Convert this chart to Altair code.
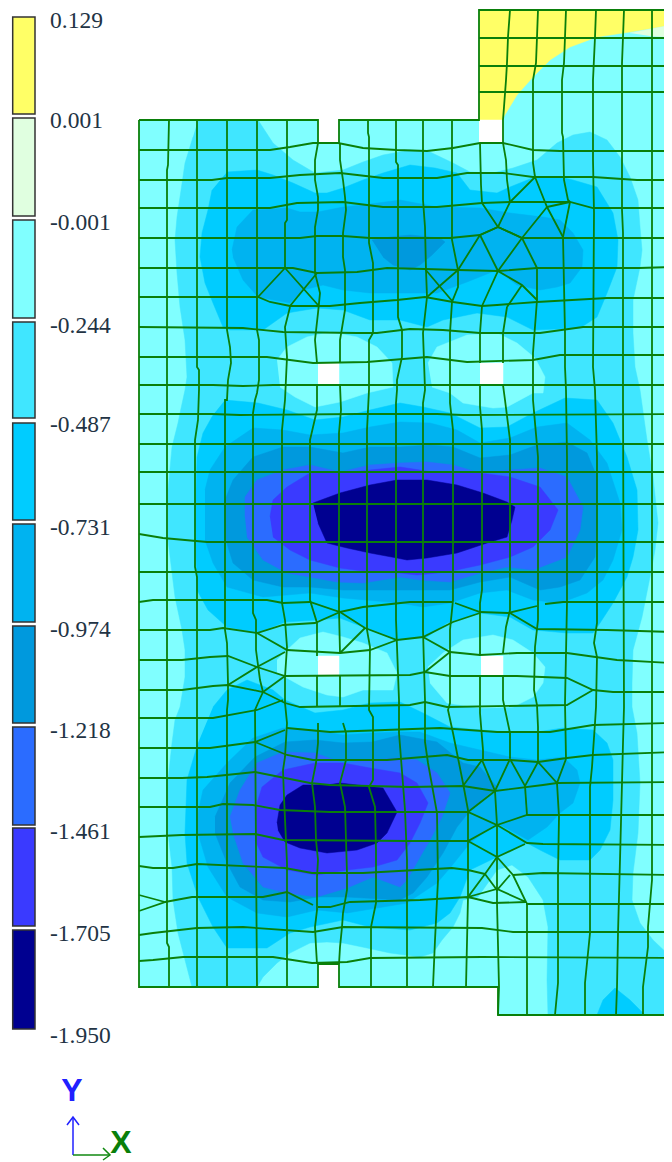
import altair as alt
import pandas as pd

# ---------- legend ----------
legend_colors = ["#FFFF66", "#E0FFE0", "#80FFFF", "#40E6FF", "#00CCFF", "#00B3F0",
                 "#0099DD", "#2B6CFF", "#3A3AFF", "#000090"]
legend_tops = [17, 118, 220, 322, 423, 524, 626, 727, 828, 930]
legend_bottoms = [114, 216, 318, 418, 520, 622, 723, 825, 926, 1029]
legend_labels = ["0.129", "0.001", "-0.001", "-0.244", "-0.487", "-0.731", "-0.974",
                 "-1.218", "-1.461", "-1.705", "-1.950"]
legend_label_y = [21, 121, 223, 326, 425, 528, 630, 731, 832, 934, 1036]

# ---------- contour regions, painted in order ----------
outline = [(139,120),(318,120),(318,143),(339,143),(339,120),(479,120),(479,10),(672,10),(672,1015),(498,1015),(498,987),(339,987),(339,964),(318,964),(318,987),(139,987)]
yellow = [(479,10),(672,10),(672,25),(630,32),(597,37),(570,47),(550,60),(533,77),(517,95),(503,118),(503,120),(479,120)]
pale = [(630,33),(672,25),(672,37),(650,36)]
c3 = [(198,120),(258,120),(273,143),(293,160),(315,173),(343,170),(363,162),(383,155),(410,150),(430,152),(453,163),(470,172),(493,173),(513,168),(537,160),(557,143),(573,135),(590,132),(607,140),(620,157),(630,177),(638,200),(640,227),(642,250),(640,267),(633,300),(633,333),(635,367),(640,390),(647,440),(653,477),(658,523),(655,550),(650,577),(642,617),(633,650),(632,683),(632,707),(637,733),(640,783),(638,833),(633,873),(632,900),(640,923),(653,940),(672,958),(672,1015),(548,1015),(547,980),(548,927),(543,900),(528,877),(512,865),(497,870),(478,897),(463,900),(460,913),(453,927),(442,940),(433,953),(420,957),(390,953),(367,948),(343,943),(327,942),(310,943),(290,953),(277,963),(263,977),(257,987),(192,987),(185,960),(178,933),(173,900),(172,867),(168,833),(168,780),(172,743),(175,720),(180,707),(185,677),(185,650),(182,630),(175,597),(172,573),(168,540),(168,490),(172,447),(178,423),(180,413),(185,390),(187,377),(185,340),(180,307),(177,273),(175,240),(177,217),(180,197),(185,163),(193,137)]
p_a = [(277,360),(287,347),(307,337),(330,332),(357,337),(377,347),(392,363),(393,387),(367,393),(340,402),(315,407),(295,397),(280,387)]
p_b = [(428,363),(437,347),(467,335),(497,333),(517,343),(535,358),(545,377),(543,393),(533,393),(507,407),(493,408),(463,403),(450,393),(432,387)]
p_c = [(277,660),(287,650),(300,638),(323,632),(343,637),(363,643),(387,653),(397,673),(393,690),(363,690),(343,697),(327,695),(303,687),(285,677),(277,673)]
p_d = [(428,667),(443,653),(463,640),(493,635),(513,640),(533,653),(545,667),(543,683),(533,697),(513,707),(480,708),(447,703),(430,683)]
c4_top = [(227,172),(257,170),(273,175),(293,183),(315,193),(327,193),(343,188),(363,180),(383,173),(410,165),(435,168),(457,173),(470,190),(497,193),(510,187),(535,177),(560,177),(573,180),(597,187),(613,213),(618,240),(617,267),(607,293),(597,317),(580,328),(533,330),(507,317),(477,313),(443,320),(427,327),(400,320),(370,320),(343,310),(317,308),(287,313),(263,330),(230,330),(223,327),(213,303),(205,283),(200,257),(202,233),(208,210),(212,190)]
c5_top = [(232,250),(237,227),(253,210),(287,208),(300,212),(318,212),(343,207),(363,205),(400,200),(437,207),(480,208),(510,213),(543,217),(560,220),(573,233),(583,250),(582,267),(570,283),(557,287),(540,290),(517,285),(497,270),(467,282),(437,293),(400,293),(370,293),(343,290),(323,285),(303,290),(290,303),(258,297),(243,280),(233,257)]
c6_top = [(372,240),(390,237),(410,235),(440,238),(445,242),(432,255),(420,265),(410,270),(393,265),(383,257)]
c4_mid = [(225,400),(258,403),(287,410),(315,420),(343,417),(370,410),(400,403),(423,407),(450,413),(480,428),(507,427),(533,413),(565,398),(597,400),(613,423),(627,457),(637,490),(638,530),(633,557),(627,577),(613,603),(600,623),(593,633),(567,633),(533,630),(510,617),(480,613),(447,623),(427,637),(397,640),(363,627),(340,618),(317,620),(285,622),(257,633),(227,627),(208,610),(197,590),(195,523),(197,457),(203,433),(213,415)]
c5_mid = [(205,490),(210,470),(225,447),(253,428),(283,430),(310,435),(343,433),(370,427),(400,422),(430,423),(457,430),(480,443),(510,438),(537,427),(567,423),(590,440),(607,463),(620,503),(622,530),(613,560),(603,580),(587,593),(560,603),(533,600),(507,590),(480,593),(450,603),(423,607),(400,603),(343,598),(310,593),(263,597),(227,587),(213,563),(205,540)]
c6_mid = [(225,523),(225,500),(233,480),(253,457),(283,447),(310,447),(343,453),(370,447),(400,447),(430,445),(453,447),(480,458),(510,455),(537,445),(567,442),(587,453),(597,477),(597,523),(595,557),(580,580),(560,587),(540,590),(510,577),(480,582),(450,590),(423,590),(400,590),(343,590),(310,587),(283,587),(253,580),(233,563),(225,537)]
c7_mid = [(245,517),(245,497),(257,480),(283,470),(310,465),(340,472),(370,465),(400,463),(427,462),(453,465),(480,473),(510,470),(540,468),(567,477),(583,507),(580,530),(567,557),(533,570),(507,567),(480,573),(450,582),(420,580),(400,577),(363,583),(337,582),(310,577),(287,573),(263,560),(247,537)]
c8_mid = [(270,517),(273,500),(287,487),(310,473),(340,473),(370,470),(400,467),(433,472),(480,473),(510,477),(540,487),(558,510),(550,530),(533,547),(510,557),(480,565),(447,572),(417,575),(400,573),(370,572),(340,568),(310,560),(290,550),(273,537)]
c9_mid = [(313,503),(340,493),(370,485),(397,480),(427,480),(457,485),(483,493),(507,502),(515,507),(512,520),(507,537),(487,543),(457,553),(427,558),(407,560),(397,558),(370,553),(347,548),(327,543),(318,523)]
c4_low = [(213,707),(227,690),(247,680),(273,690),(285,700),(315,713),(343,710),(370,703),(400,702),(423,713),(450,727),(480,730),(510,732),(537,732),(563,728),(593,730),(607,743),(613,760),(613,800),(610,830),(600,850),(590,860),(560,860),(540,850),(527,843),(497,857),(470,870),(460,897),(450,913),(437,923),(410,930),(370,927),(343,920),(310,927),(290,933),(267,948),(227,948),(213,927),(198,897),(187,863),(185,833),(187,780),(198,743)]
c5_low = [(198,813),(203,790),(227,763),(253,738),(283,728),(315,730),(343,735),(372,733),(400,732),(420,732),(450,743),(480,750),(510,757),(537,760),(563,757),(577,770),(580,783),(573,803),(560,813),(547,827),(528,840),(497,823),(470,843),(450,868),(437,883),(407,903),(347,913),(317,910),(287,917),(257,913),(227,897),(208,867),(198,833)]
c6_low = [(215,817),(230,783),(255,757),(285,742),(315,740),(343,743),(372,742),(400,735),(437,742),(463,763),(480,767),(497,787),(473,807),(457,827),(443,853),(427,877),(413,893),(400,900),(347,897),(317,897),(290,902),(263,900),(240,887),(227,863),(215,833)]
c7_low = [(230,817),(240,790),(257,763),(283,752),(315,753),(343,763),(372,760),(400,758),(417,760),(437,773),(450,793),(442,817),(430,840),(420,857),(407,880),(400,887),(373,877),(347,888),(317,897),(287,893),(263,887),(243,863),(233,833)]
c8_low = [(255,810),(262,787),(283,770),(315,763),(343,763),(370,768),(400,773),(417,783),(428,803),(420,823),(410,843),(397,860),(373,867),(347,870),(317,875),(287,870),(263,857),(255,840)]
c9_low = [(277,823),(280,805),(287,795),(303,785),(327,785),(340,783),(357,785),(383,788),(397,812),(387,833),(377,843),(357,850),(327,853),(300,848),(285,842),(278,830)]
c4_corner = [(597,1015),(603,1000),(615,988),(630,1000),(645,1015)]
hole1 = [(479,120),(503,120),(503,143),(479,143)]
hole2 = [(318,363),(339,363),(339,385),(318,385)]
hole3 = [(480,363),(503,363),(503,385),(480,385)]
hole4 = [(318,656),(339,656),(339,676),(318,676)]
hole5 = [(481,656),(503,656),(503,676),(481,676)]

regions = [
    (outline, "#80FFFF"), (yellow, "#FFFF66"), (pale, "#E0FFE0"), (c3, "#40E6FF"),
    (p_a, "#80FFFF"), (p_b, "#80FFFF"), (p_c, "#80FFFF"), (p_d, "#80FFFF"),
    (c4_top, "#00CCFF"), (c5_top, "#00B3F0"), (c6_top, "#0099DD"),
    (c4_mid, "#00CCFF"), (c5_mid, "#00B3F0"), (c6_mid, "#0099DD"), (c7_mid, "#2B6CFF"), (c8_mid, "#3A3AFF"), (c9_mid, "#000090"),
    (c4_low, "#00CCFF"), (c5_low, "#00B3F0"), (c6_low, "#0099DD"), (c7_low, "#2B6CFF"), (c8_low, "#3A3AFF"), (c9_low, "#000090"),
    (c4_corner, "#00CCFF"),
    (hole1, "#FFFFFF"), (hole2, "#FFFFFF"), (hole3, "#FFFFFF"), (hole4, "#FFFFFF"), (hole5, "#FFFFFF"),
]

# ---------- mesh lines ----------
mesh_vertical = [
    [(169,120),(168,165),(167,170),(167,943),(169,947),(169,987)],
    [(197,120),(197,367),(199,370),(199,390),(198,420),(195,440),(195,567),(197,577),(197,987)],
    [(227,120),(227,330),(230,347),(231,363),(228,380),(227,400),(225,400),(225,630),(227,643),(228,683),(228,700),(227,710),(227,987)],
    [(257,120),(257,330),(259,340),(259,380),(257,393),(255,400),(253,413),(253,613),(256,620),(256,650),(260,680),(263,692),(258,703),(255,710),(257,987)],
    [(287,120),(287,220),(285,223),(285,268)],
    [(290,307),(285,327),(287,357),(285,400),(282,430),(282,603),(285,620),(287,647),(285,677),(285,703),(287,723),(285,757),(283,770),(284,797),(287,863),(287,987)],
    [(318,143),(315,160),(315,180),(318,197),(318,210),(315,227),(315,273),(320,293),(318,313),(315,340),(317,363)],
    [(317,385),(317,410),(310,440),(310,600),(317,623),(317,656)],
    [(317,676),(317,707)],
    [(318,723),(318,743),(316,763),(312,783),(315,807),(316,840),(318,860),(317,877),(317,910),(315,927),(316,947),(317,964)],
    [(340,143),(340,160),(343,180),(345,197),(346,210),(343,233),(343,257),(345,270),(345,310),(340,340),(340,363)],
    [(340,385),(341,410),(339,433),(339,610),(340,653)],
    [(340,676),(340,707)],
    [(343,723),(346,733),(346,760),(340,783),(345,807),(346,840),(347,873),(347,890),(343,913),(342,927),(340,947),(339,964)],
    [(368,120),(368,133),(369,137),(369,243),(373,263),(373,333),(369,340),(369,390),(367,430),(367,630),(370,647),(369,710),(373,717),(373,780),(369,787),(375,807),(376,850),(376,903),(371,927),(371,987)],
    [(396,120),(396,162),(398,165),(398,317),(402,330),(402,357),(397,380),(397,390),(396,403),(396,620),(399,700),(399,733),(405,810),(407,860),(407,987)],
    [(423,120),(423,200),(425,227),(426,270),(427,297),(423,333),(425,390),(423,403),(423,630),(424,667),(425,700),(425,742),(428,763),(437,813),(438,880),(435,940),(433,987)],
    [(452,120),(452,240),(458,270),(458,287),(452,302),(450,333),(450,403),(453,430),(453,600),(450,630),(450,703),(448,710),(453,733),(463,783),(468,810),(468,897),(466,987)],
    [(480,143),(481,185),(482,203)],
    [(482,306),(480,333),(480,363)],
    [(480,385),(480,407),(482,430),(482,590),(480,603),(480,656)],
    [(480,676),(480,713),(483,750),(483,760)],
    [(495,791),(497,825),(497,903),(499,987),(498,1015)],
    [(510,10),(508,37),(507,63),(506,80),(504,107),(503,120),(503,143),(506,160),(507,180),(510,202)],
    [(507,307),(503,333),(503,363)],
    [(503,385),(505,400),(510,440),(510,610),(506,627),(503,653)],
    [(503,676),(503,700),(510,733),(510,758)],
    [(538,10),(537,37),(536,63),(533,80),(533,163),(535,177)],
    [(537,268),(537,300),(533,353),(533,400),(538,457),(538,620),(535,647),(534,690),(537,705),(538,727),(538,762)],
    [(566,10),(565,37),(564,63),(562,80),(562,133),(563,137),(564,180),(568,200),(570,202)],
    [(563,237),(565,333),(565,367),(566,390),(567,457),(567,603),(565,703),(566,759)],
    [(557,783),(559,817),(558,873),(558,983),(555,1015)],
    [(525,786),(527,815)],
    [(527,904),(527,1015)],
    [(596,10),(595,37),(593,80),(593,160),(594,213),(593,367),(595,390),(597,457),(597,623),(594,643),(597,657),(596,707),(595,723),(592,767),(590,787),(590,933),(585,983),(585,1015)],
    [(624,10),(623,37),(622,63),(622,210),(623,233),(623,400),(624,707),(623,743),(622,783),(620,860),(618,933),(617,987),(616,1015)],
    [(652,10),(652,880),(648,927),(648,947),(643,987),(643,1015)],
]
mesh_horizontal = [
    [(479,38),(672,38)], [(479,66),(672,66)], [(479,92),(672,92)],
    [(139,150),(270,150),(290,147),(313,143),(338,143),(363,148),(397,150),(427,151),(453,148),(480,143),(503,143),(533,150),(560,151),(672,151)],
    [(139,180),(212,180),(227,178),(270,178),(300,175),(340,173),(383,178),(437,178),(467,173),(503,173),(533,177),(593,177),(637,180),(672,180)],
    [(139,208),(270,208),(297,203),(343,202),(383,207),(437,207),(482,203),(510,202),(570,202),(593,208),(672,208)],
    [(139,238),(300,238),(317,236),(343,236),(370,238),(450,238),(480,235),(498,227),(522,238),(672,238)],
    [(139,268),(293,268),(317,273),(357,272),(387,268),(425,269),(458,270),(498,271),(537,268),(639,268),(672,267)],
    [(139,297),(213,297),(258,297),(270,302),(290,306),(330,306),(360,303),(397,300),(425,297),(453,302),(482,306),(497,305),(537,302),(607,298),(672,298)],
    [(139,327),(243,328),(283,332),(357,333),(377,333),(410,329),(443,330),(480,333),(540,333),(583,327),(672,327)],
    [(139,357),(267,357),(313,363),(367,362),(427,357),(467,362),(533,360),(560,355),(672,355)],
    [(139,385),(213,385),(243,386),(273,385),(672,385)],
    [(139,414),(212,414),(240,415),(357,414),(437,414),(463,415),(672,414)],
    [(139,444),(357,444),(463,444),(672,444)],
    [(139,472),(672,472)],
    [(139,504),(672,504)],
    [(139,534),(163,538),(207,542),(410,542),(672,542)],
    [(139,572),(672,572)],
    [(139,602),(153,600),(267,600),(283,603),(310,602),(340,612),(363,607),(410,602),(453,602)],
    [(455,603),(480,612),(508,613),(537,606)],
    [(545,604),(563,602),(672,602)],
    [(139,630),(210,630),(223,628),(257,633),(283,625),(315,623),(340,612),(365,628),(397,640),(423,637),(453,622),(480,613)],
    [(257,633),(287,650),(340,653),(370,650),(397,640)],
    [(340,653),(365,628)],
    [(423,637),(450,652),(480,655),(517,653),(567,653),(617,660),(672,663)],
    [(450,652),(425,672)],
    [(510,613),(537,629),(607,630),(672,632)],
    [(139,660),(182,660),(210,657),(228,656),(257,667),(285,676),(410,675),(425,672),(450,676),(517,676),(567,678),(593,690),(613,692),(672,692)],
    [(285,652),(257,667),(228,685)],
    [(139,690),(182,690),(213,686),(228,685),(263,692),(285,703),(300,707),(410,705),(425,702),(447,707),(567,705),(593,690)],
    [(263,692),(285,676)],
    [(139,718),(213,718),(257,710),(283,700)],
    [(139,748),(210,748),(255,742),(285,730)],
    [(287,728),(330,732),(440,728),(497,732),(550,732),(593,725),(672,723)],
    [(255,742),(287,755),(313,760),(387,760),(447,755),(468,760),(510,760),(538,762),(567,758),(593,755),(672,752)],
    [(139,778),(182,778),(207,777),(255,772),(310,783),(330,785),(410,787),(463,786),(495,791),(543,785),(557,783),(672,782)],
    [(139,807),(210,807),(223,804),(253,805),(280,810),(330,812),(468,812),(497,825),(527,815),(672,815)],
    [(139,837),(182,835),(255,834),(283,840),(410,841),(468,841),(497,825),(527,843),(543,844),(672,845)],
    [(468,841),(497,857),(525,844)],
    [(139,866),(153,868),(173,868),(197,864),(285,868),(312,873),(363,873),(452,868),(468,870),(485,874)],
    [(513,875),(543,873),(672,875)],
    [(139,895),(165,902),(139,911)],
    [(165,902),(192,897),(263,897),(287,892),(313,905)],
    [(318,907),(330,907),(350,902),(420,900),(468,897),(493,903),(526,902)],
    [(526,904),(672,904)],
    [(139,935),(153,933),(197,928),(243,927),(313,932),(343,927),(482,928),(513,932),(672,932)],
    [(139,961),(153,960),(183,957),(273,957),(312,963),(347,962),(370,958),(482,957),(672,958)],
]
mesh_diagonal = [
    [(258,297),(285,268),(318,305)], [(317,273),(290,306)],
    [(482,203),(498,227),(510,202),(535,177),(547,207),(563,237)],
    [(547,207),(522,238),(498,271),(482,306)], [(570,202),(563,237)], [(547,207),(570,202)],
    [(498,227),(522,238),(537,268)], [(498,227),(480,235),(458,270)], [(480,235),(498,271),(522,285),(537,300)],
    [(522,285),(507,307)], [(425,269),(453,302)], [(427,297),(458,270)],
    [(463,786),(482,760),(495,791),(510,759),(525,786),(538,762),(557,783),(566,759)],
    [(495,791),(468,812)],
    [(497,857),(485,874),(468,897),(497,889),(526,902),(513,875),(497,857)],
    [(485,874),(497,890),(510,875)],
]
outline_closed = outline + [outline[0]]

legend_axis_x = [12.7, 35]
triad_blue = [[(73,1155),(73,1117)], [(67,1125),(73,1117),(79,1125)]]
triad_green = [[(73,1155),(110,1155)], [(103,1148),(110,1155),(103,1160)]]

# ---------- chart ----------
W, H = 656, 1154
sx = alt.Scale(domain=[8, 664], nice=False, zero=False)
sy = alt.Scale(domain=[1162, 8], nice=False, zero=False)
X = alt.X("x:Q", scale=sx, axis=None)
Y = alt.Y("y:Q", scale=sy, axis=None)


def rows(lines):
    out = []
    for k, line in enumerate(lines):
        for i, (x, y) in enumerate(line):
            out.append({"line": k, "i": i, "x": x, "y": y})
    return pd.DataFrame(out)


layers = []
for pts, color in regions:
    df = pd.DataFrame({"x": [p[0] for p in pts], "y": [p[1] for p in pts], "i": range(len(pts))})
    layers.append(alt.Chart(df).mark_line(fill=color, stroke=color, strokeWidth=0.5, clip=True)
                  .encode(x=X, y=Y, order="i:Q"))

mesh = alt.Chart(rows(mesh_vertical + mesh_horizontal + mesh_diagonal + [outline_closed])).mark_line(
    color="#0A7F0A", strokeWidth=1.8, clip=True
).encode(x=X, y=Y, detail="line:N", order="i:Q")
layers.append(mesh)

leg = pd.DataFrame({"x": legend_axis_x[0], "x2": legend_axis_x[1], "y": legend_tops,
                    "y2": legend_bottoms, "c": legend_colors})
layers.append(alt.Chart(leg).mark_rect(stroke="#333333", strokeWidth=1.5).encode(
    x=X, x2="x2:Q", y=Y, y2="y2:Q", fill=alt.Fill("c:N", scale=None)))

labs = pd.DataFrame({"x": [50] * len(legend_labels), "y": legend_label_y, "t": legend_labels})
layers.append(alt.Chart(labs).mark_text(align="left", baseline="middle", font="Liberation Serif",
                                        fontSize=23.5, color="#223344").encode(x=X, y=Y, text="t:N"))

layers.append(alt.Chart(rows(triad_blue)).mark_line(color="#2020FF", strokeWidth=1.5).encode(
    x=X, y=Y, detail="line:N", order="i:Q"))
layers.append(alt.Chart(rows(triad_green)).mark_line(color="#118811", strokeWidth=1.5).encode(
    x=X, y=Y, detail="line:N", order="i:Q"))

letters = pd.DataFrame({"x": [72, 121], "y": [1091, 1143], "t": ["Y", "X"], "c": ["#2020FF", "#0A7F0A"]})
layers.append(alt.Chart(letters).mark_text(align="center", baseline="middle", font="Liberation Sans",
                                           fontWeight="bold", fontSize=32).encode(
    x=X, y=Y, text="t:N", color=alt.Color("c:N", scale=None)))

chart = alt.layer(*layers).properties(
    width=W, height=H, padding=0, autosize=alt.AutoSizeParams(type="none"), background="white"
).configure_view(stroke=None)

chart.save("out.html", embed_options={"renderer": "svg", "actions": False})
